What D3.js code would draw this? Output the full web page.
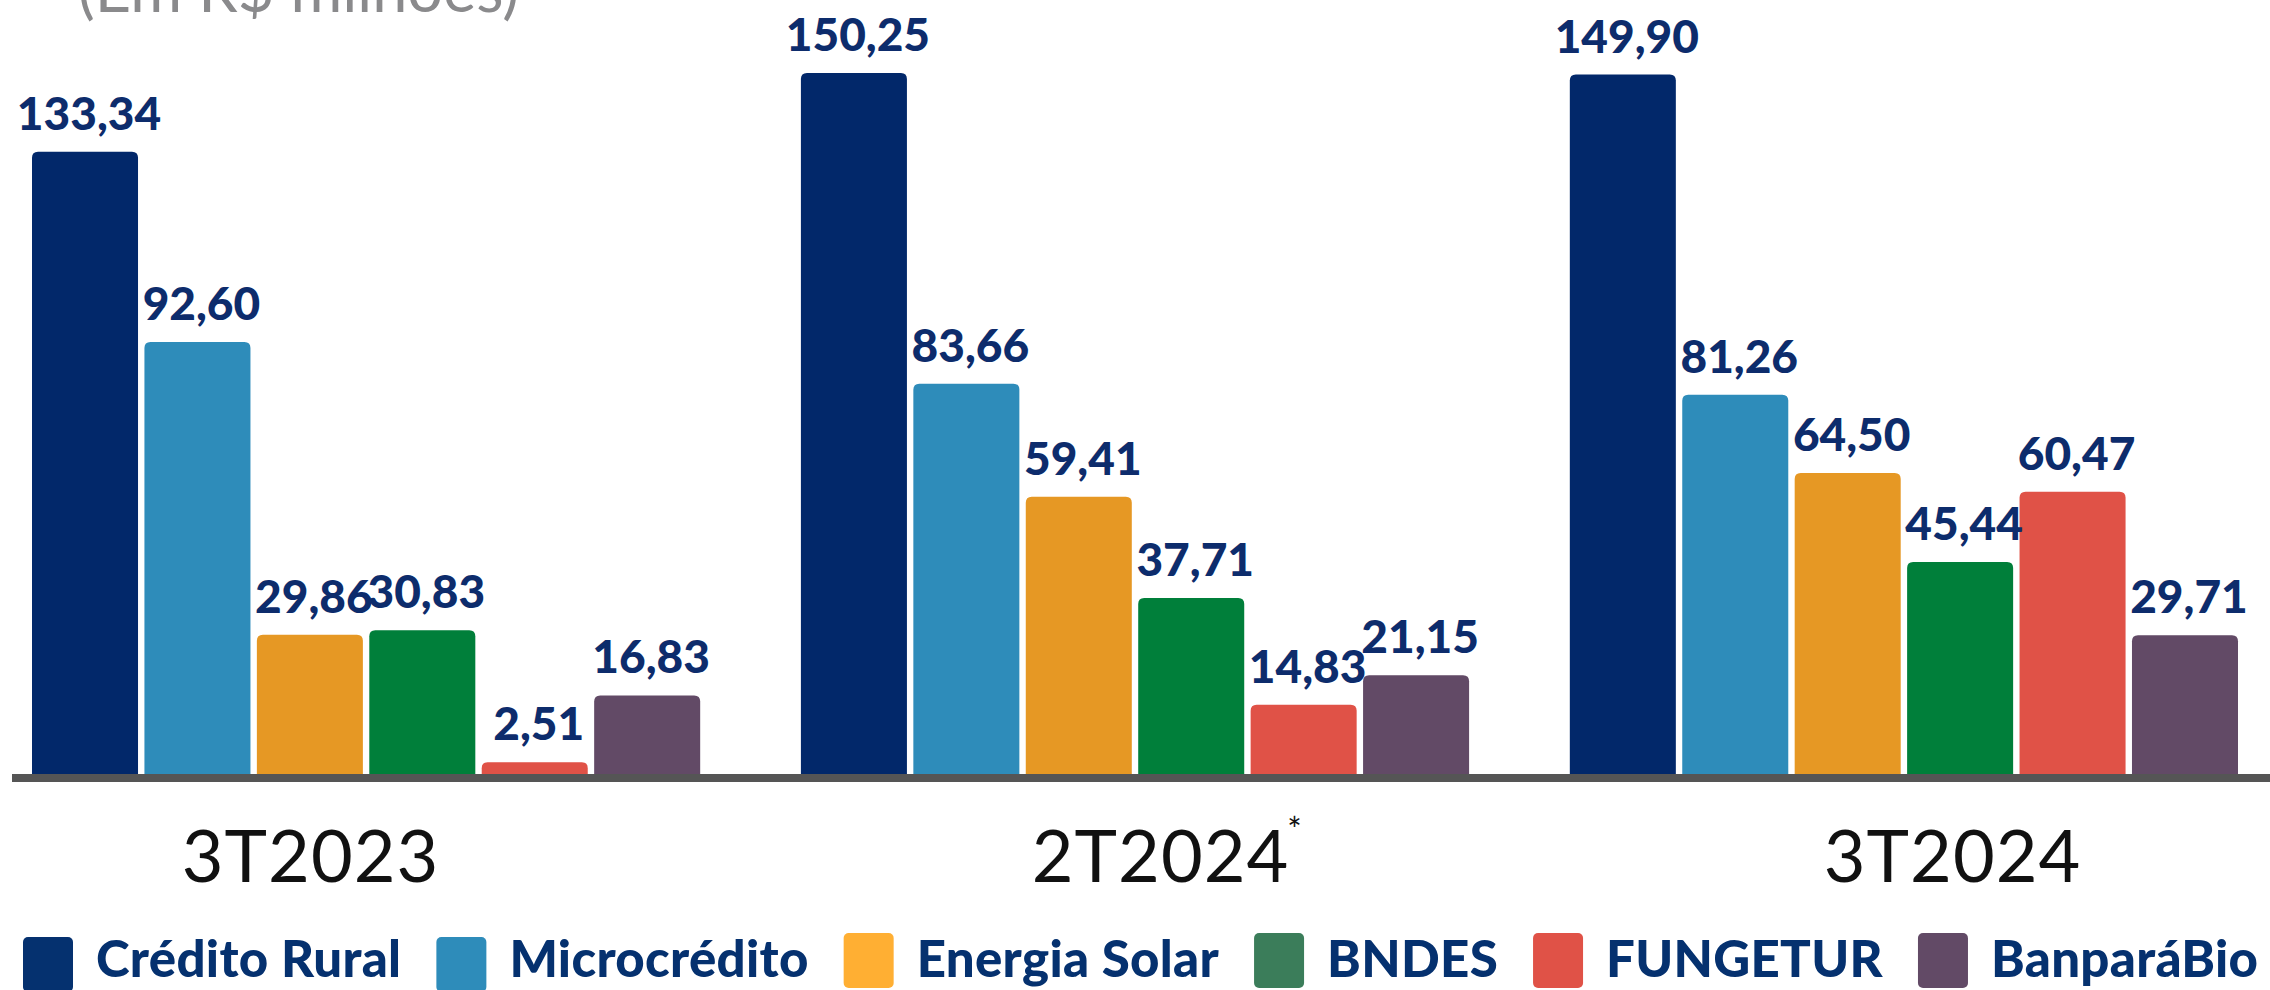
<!DOCTYPE html>
<html>
<head>
<meta charset="utf-8">
<script src="https://cdn.jsdelivr.net/npm/d3@7"></script>
<style>
  html, body { margin: 0; padding: 0; background: #fff; }
  svg { display: block; }
</style>
</head>
<body>
<div id="chart"></div>
<script>
// dados (em R$ milhões)
const categories = ['3T2023', '2T2024', '3T2024'];
const categoryNotes = ['', '*', ''];
const seriesNames = ['Crédito Rural', 'Microcrédito', 'Energia Solar', 'BNDES', 'FUNGETUR', 'BanparáBio'];
const creditoRural = [133.34, 150.25, 149.90];
const microcredito = [92.60, 83.66, 81.26];
const energiaSolar = [29.86, 59.41, 64.50];
const bndes = [30.83, 37.71, 45.44];
const fungetur = [2.51, 14.83, 60.47];
const banparaBio = [16.83, 21.15, 29.71];
const barColors = ['#02286A', '#2E8CBA', '#E69824', '#007F3A', '#E05247', '#624A66'];
const legendColors = ['#05316F', '#2E8CBA', '#FFAF33', '#3B7D5A', '#E05247', '#624A66'];

const seriesValues = [creditoRural, microcredito, energiaSolar, bndes, fungetur, banparaBio];

const width = 2270, height = 990;
const baseY = 774;

const pt = d3.formatLocale({ decimal: ',', thousands: '.', grouping: [3], currency: ['R$ ', ''] });
const fmt = pt.format('.2f');

const svg = d3.select('#chart')
  .append('svg')
  .attr('width', width)
  .attr('height', height);

// title, mostly cut off at the top (as in the original slide)
svg.append('text')
  .attr('x', 78)
  .attr('y', 12)
  .attr('font-family', 'Lato, sans-serif')
  .attr('font-size', 63)
  .attr('fill', '#8A8A8C')
  .text('(Em R$ milhões)');

const x0 = d3.scaleBand()
  .domain(categories)
  .range([32, 2238])
  .paddingInner(0.131)
  .paddingOuter(0);

const x1 = d3.scaleBand()
  .domain(seriesNames)
  .range([0, x0.bandwidth()])
  .paddingInner(0.057);

const y = d3.scaleLinear()
  .domain([0, 160])
  .range([baseY, baseY - 160 * 4.666]);

function topRounded(x, yTop, w, h, r) {
  r = Math.min(r, h / 2, w / 2);
  return `M${x},${yTop + h}V${yTop + r}Q${x},${yTop} ${x + r},${yTop}H${x + w - r}Q${x + w},${yTop} ${x + w},${yTop + r}V${yTop + h}Z`;
}

const rows = [];
categories.forEach((c, ci) => {
  seriesNames.forEach((s, si) => {
    rows.push({ cat: c, name: s, si: si, value: seriesValues[si][ci] });
  });
});

const bars = svg.append('g');

bars.selectAll('path')
  .data(rows)
  .enter()
  .append('path')
  .attr('d', d => {
    const bx = x0(d.cat) + x1(d.name);
    return topRounded(bx, y(d.value), x1.bandwidth(), baseY - y(d.value), 6);
  })
  .attr('fill', d => barColors[d.si]);

bars.selectAll('text')
  .data(rows)
  .enter()
  .append('text')
  .attr('x', d => x0(d.cat) + x1(d.name) + x1.bandwidth() / 2 + 4)
  .attr('y', d => y(d.value) - 22)
  .attr('text-anchor', 'middle')
  .attr('font-family', 'Lato, sans-serif')
  .attr('font-weight', 900)
  .attr('font-size', 46)
  .attr('fill', '#0D2C6C')
  .text(d => fmt(d.value));

// baseline
svg.append('line')
  .attr('x1', 12)
  .attr('x2', width)
  .attr('y1', baseY + 4)
  .attr('y2', baseY + 4)
  .attr('stroke', '#555555')
  .attr('stroke-width', 8);

// category labels (they sit a bit off the group centres in the original)
const xl = d3.scaleOrdinal()
  .domain(categories)
  .range([310, 1160, 1952]);

const axis = svg.append('g')
  .attr('transform', 'translate(0,882)')
  .call(d3.axisBottom(xl).tickSize(0).tickFormat(''));
axis.select('.domain').remove();

axis.selectAll('.tick')
  .append('text')
  .attr('y', 0)
  .attr('text-anchor', 'middle')
  .attr('font-family', 'Lato, sans-serif')
  .attr('font-size', 72)
  .attr('letter-spacing', 1)
  .attr('fill', '#111111')
  .text(d => d);

axis.selectAll('.tick')
  .filter((d, i) => categoryNotes[i])
  .append('text')
  .attr('x', 134)
  .attr('y', -40)
  .attr('font-family', 'Lato, sans-serif')
  .attr('font-size', 34)
  .attr('fill', '#111111')
  .text((d, i) => categoryNotes[categories.indexOf(d)]);

// legend
const legend = svg.append('g');
let lx = 23;
seriesNames.forEach((s, i) => {
  const g = legend.append('g').attr('transform', `translate(${lx},0)`);
  g.append('rect')
    .attr('x', 0)
    .attr('y', i < 2 ? 937 : 933)
    .attr('width', 50)
    .attr('height', 55)
    .attr('rx', 5)
    .attr('fill', legendColors[i]);
  const t = g.append('text')
    .attr('x', 73)
    .attr('y', 977)
    .attr('font-family', 'Lato, sans-serif')
    .attr('font-weight', 900)
    .attr('font-size', 51)
    .attr('letter-spacing', 0.3)
    .attr('fill', '#05316F')
    .text(s);
  lx += 73 + t.node().getComputedTextLength() + 35;
});
</script>
</body>
</html>
